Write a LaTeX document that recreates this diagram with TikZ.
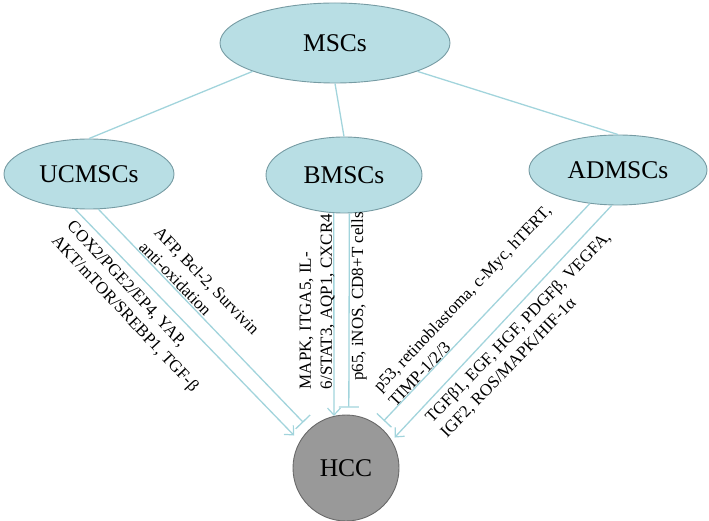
\documentclass[tikz,border=0pt]{standalone}
\usepackage{fontspec}
\setmainfont{Liberation Serif}
\usetikzlibrary{shapes.geometric,arrows.meta}
\definecolor{cellfill}{RGB}{184,222,228}
\definecolor{celldraw}{RGB}{118,155,163}
\definecolor{linkcol}{RGB}{162,212,220}
\definecolor{hccfill}{RGB}{153,153,153}
\definecolor{hccdraw}{RGB}{105,105,105}
\begin{document}
\begin{tikzpicture}[x=1pt,y=-1pt,
  cell/.style={ellipse,draw=celldraw,fill=cellfill,line width=0.9pt,inner sep=0pt,font=\fontsize{25.5}{28}\selectfont},
  tumor/.style={circle,draw=hccdraw,fill=hccfill,line width=0.9pt,inner sep=0pt,minimum size=106pt,font=\fontsize{25.5}{28}\selectfont},
  link/.style={draw=linkcol,line width=1.3pt},
  promote/.style={link,-{Straight Barb[length=7pt,width=13pt,line width=1.2pt]}},
  inhibit/.style={link,-{Bar[width=20pt,line width=1.3pt]}},
  lbl/.style={font=\fontsize{17}{21}\selectfont,align=left,inner sep=0pt}]
\useasboundingbox (0,0) rectangle (709,521);
% nodes
\node[cell,minimum width=230pt,minimum height=80pt] (ms) at (335,43) {MSCs};
\node[cell,minimum width=170pt,minimum height=70pt] (uc) at (89,174) {UCMSCs};
\node[cell,minimum width=156pt,minimum height=76pt] (bm) at (344,175) {BMSCs};
\node[cell,minimum width=178pt,minimum height=70pt] (ad) at (618,170) {ADMSCs};
\node[tumor] (hcc) at (346,468) {HCC};
% tree links
\draw[link] (ms.-161) -- (uc.north);
\draw[link] (ms.south) -- (bm.north);
\draw[link] (ms.-19) -- (ad.north);
% effects on HCC
\draw[promote,shorten >=8pt] (uc.-112) -- (hcc.150.5);
\draw[inhibit,shorten >=9pt] (uc.-75) -- (hcc.133.7);
\draw[promote] (bm.-105) -- (hcc.103.8);
\draw[inhibit,shorten >=7pt] (bm.-82.4) -- (hcc.87);
\draw[inhibit,shorten >=7pt] (ad.-130) -- (hcc.52.4);
\draw[promote,shorten >=4pt] (ad.-100) -- (hcc.31.5);
% labels
\node[lbl,rotate=-47] (l1) at (132,307) {COX2/PGE2/EP4, YAP,\\AKT/mTOR/SREBP1, TGF-β};
\node[lbl,rotate=-46] (l2) at (199.5,288) {AFP, Bcl-2, Survivin\\anti-oxidation};
\node[lbl,rotate=90] (l3) at (317,301.5) {MAPK, ITGA5, IL-\\6/STAT3, AQP1, CXCR4};
\node[lbl,rotate=90] (l4) at (359,296.5) {p65, iNOS, CD8+T cells};
\node[lbl,rotate=46.5] (l5) at (469.5,305.5) {p53, retinoblastoma, c-Myc, hTERT,\\TIMP-1/2/3};
\node[lbl,rotate=46] (l6) at (526,335) {TGFβ1, EGF, HGF, PDGFβ, VEGFA,\\IGF2, ROS/MAPK/HIF-1α};
\end{tikzpicture}
\end{document}
